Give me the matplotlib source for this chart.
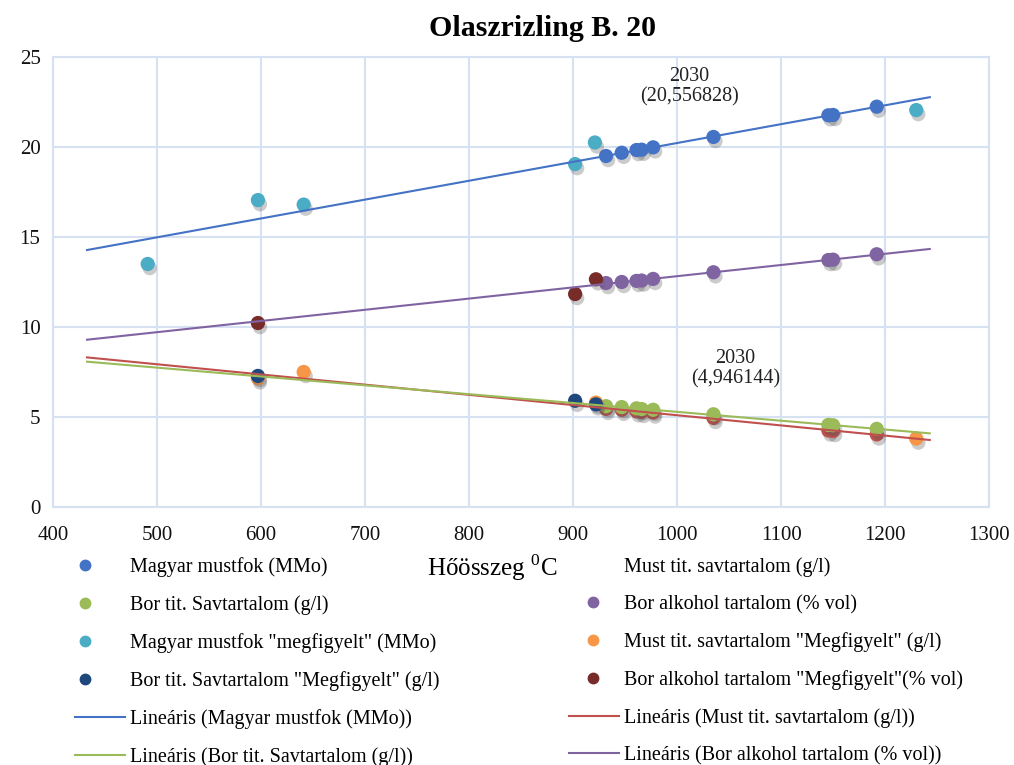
import numpy as np
import matplotlib
matplotlib.use("Agg")
import matplotlib.pyplot as plt
from matplotlib.lines import Line2D
from matplotlib.legend_handler import HandlerLine2D
import matplotlib.patheffects as pe

plt.rcParams['font.family'] = ['Liberation Serif', 'DejaVu Serif']
plt.rcParams['mathtext.fontset'] = 'custom'
plt.rcParams['mathtext.rm'] = 'Liberation Serif'

# hőösszeg (°C) a mért évekre
x_meas = [931.7, 946.8, 961.0, 966.0, 977.0, 1035.0, 1145.5, 1150.0, 1192.0]
mustfok = [19.50, 19.68, 19.83, 19.85, 19.98, 20.556828, 21.76, 21.78, 22.24]
must_sav = [5.45, 5.40, 5.32, 5.28, 5.25, 4.946144, 4.25, 4.22, 4.03]
bor_sav = [5.60, 5.55, 5.48, 5.44, 5.40, 5.15, 4.56, 4.54, 4.34]
bor_alk = [12.44, 12.50, 12.56, 12.58, 12.67, 13.04, 13.72, 13.74, 14.04]

# megfigyelt értékek
x_mf_mustfok = [491, 597, 641, 902, 921, 1230]
mf_mustfok = [13.5, 17.05, 16.8, 19.05, 20.25, 22.05]
x_mf_must_sav = [597, 641, 922, 1230]
mf_must_sav = [7.15, 7.5, 5.8, 3.8]
x_mf_bor_sav = [597, 902, 922]
mf_bor_sav = [7.28, 5.9, 5.7]
x_mf_bor_alk = [597, 902, 922]
mf_bor_alk = [10.22, 11.83, 12.65]

trend_x = [432.7, 1243]

c_mustfok = '#4472C4'
c_must_sav = '#C0504D'
c_bor_sav = '#9BBB59'
c_bor_alk = '#8064A2'
c_mf_mustfok = '#4BACC6'
c_mf_must_sav = '#F79646'
c_mf_bor_sav = '#1F497D'
c_mf_bor_alk = '#772C2A'

fig = plt.figure(figsize=(10.14, 7.65), dpi=100)
ax = fig.add_axes([0.0523, 0.3373, 0.9231, 0.5882])

shadow = [pe.SimplePatchShadow(offset=(1.5, -3), shadow_rgbFace='#555555', alpha=0.3),
          pe.Normal()]

series = [
    (x_meas, mustfok, c_mustfok),
    (x_meas, must_sav, c_must_sav),
    (x_meas, bor_sav, c_bor_sav),
    (x_meas, bor_alk, c_bor_alk),
    (x_mf_mustfok, mf_mustfok, c_mf_mustfok),
    (x_mf_must_sav, mf_must_sav, c_mf_must_sav),
    (x_mf_bor_sav, mf_bor_sav, c_mf_bor_sav),
    (x_mf_bor_alk, mf_bor_alk, c_mf_bor_alk),
]
for i, (xs, ys, c) in enumerate(series):
    ax.scatter(xs, ys, s=105, color=c, zorder=3 + i * 0.01, path_effects=shadow,
               linewidths=0)

# lineáris trendvonalak
tx = np.array(trend_x)
for ys, c in [(mustfok, c_mustfok), (must_sav, c_must_sav),
              (bor_sav, c_bor_sav), (bor_alk, c_bor_alk)]:
    k, b = np.polyfit(x_meas, ys, 1)
    ax.plot(tx, k * tx + b, color=c, lw=1.5, zorder=5)

ax.text(1012, 23.35, '2030\n(20,556828)', ha='center', va='center',
        fontsize=14.5, color='#222222', linespacing=1.05)
ax.text(1056, 7.67, '2030\n(4,946144)', ha='center', va='center',
        fontsize=14.5, color='#222222', linespacing=1.05)

ax.set_xlim(400, 1300)
ax.set_ylim(0, 25)
ax.set_xticks(np.arange(400, 1301, 100))
ax.set_yticks(np.arange(0, 26, 5))
ax.grid(True, color='#D6E1F2', lw=1.5)
ax.set_axisbelow(True)
for s in ax.spines.values():
    s.set_color('#D6E1F2')
    s.set_linewidth(1.5)
ax.tick_params(length=0, labelsize=15, colors='#111111')
ax.tick_params(axis='x', pad=14)
ax.tick_params(axis='y', pad=9)

fig.text(0.535, 0.963, 'Olaszrizling B. 20', ha='center', va='center',
         fontsize=21.5, fontweight='bold')
fig.text(0.485, 0.258, 'Hőösszeg $^{0}$C', ha='center', va='center', fontsize=18)


class MarkerAt(HandlerLine2D):
    # jelölő a kezelő szélességének adott arányánál
    def __init__(self, frac, **kw):
        super().__init__(numpoints=1, **kw)
        self.frac = frac

    def get_xdata(self, legend, xdescent, ydescent, width, height, fontsize):
        xm = self.frac * width - xdescent
        return np.array([xm, xm]), np.array([xm])


def mk(c):
    return Line2D([], [], marker='o', ls='none', color=c, markersize=7.5)


def ln(c):
    return Line2D([], [], color=c, lw=1.5)


blank = Line2D([], [], ls='none', marker=None)
left = [mk(c_mustfok), mk(c_bor_sav), mk(c_mf_mustfok), mk(c_mf_bor_sav)]
right = [mk(c_bor_alk), mk(c_mf_must_sav), mk(c_mf_bor_alk)]
handles = left + [ln(c_mustfok), ln(c_bor_sav),
                  blank] + right + [ln(c_must_sav), ln(c_bor_alk)]
hmap = {h: MarkerAt(0.2) for h in left}
hmap.update({h: MarkerAt(0.48) for h in right})
labels = ['Magyar mustfok (MMo)', 'Bor tit. Savtartalom (g/l)',
          'Magyar mustfok "megfigyelt" (MMo)', 'Bor tit. Savtartalom "Megfigyelt" (g/l)',
          'Lineáris (Magyar mustfok (MMo))', 'Lineáris (Bor tit. Savtartalom (g/l))',
          'Must tit. savtartalom (g/l)', 'Bor alkohol tartalom (% vol)',
          'Must tit. savtartalom "Megfigyelt" (g/l)', 'Bor alkohol tartalom "Megfigyelt"(% vol)',
          'Lineáris (Must tit. savtartalom (g/l))', 'Lineáris (Bor alkohol tartalom (% vol))']
fig.legend(handles, labels, ncol=2, loc='upper left', bbox_to_anchor=(0.074, 0.272),
           frameon=False, fontsize=14.5, handlelength=2.5, handletextpad=0.25,
           labelspacing=0.9, columnspacing=6.4, borderpad=0, borderaxespad=0,
           handler_map=hmap)

fig.savefig('out.png', dpi=100)
